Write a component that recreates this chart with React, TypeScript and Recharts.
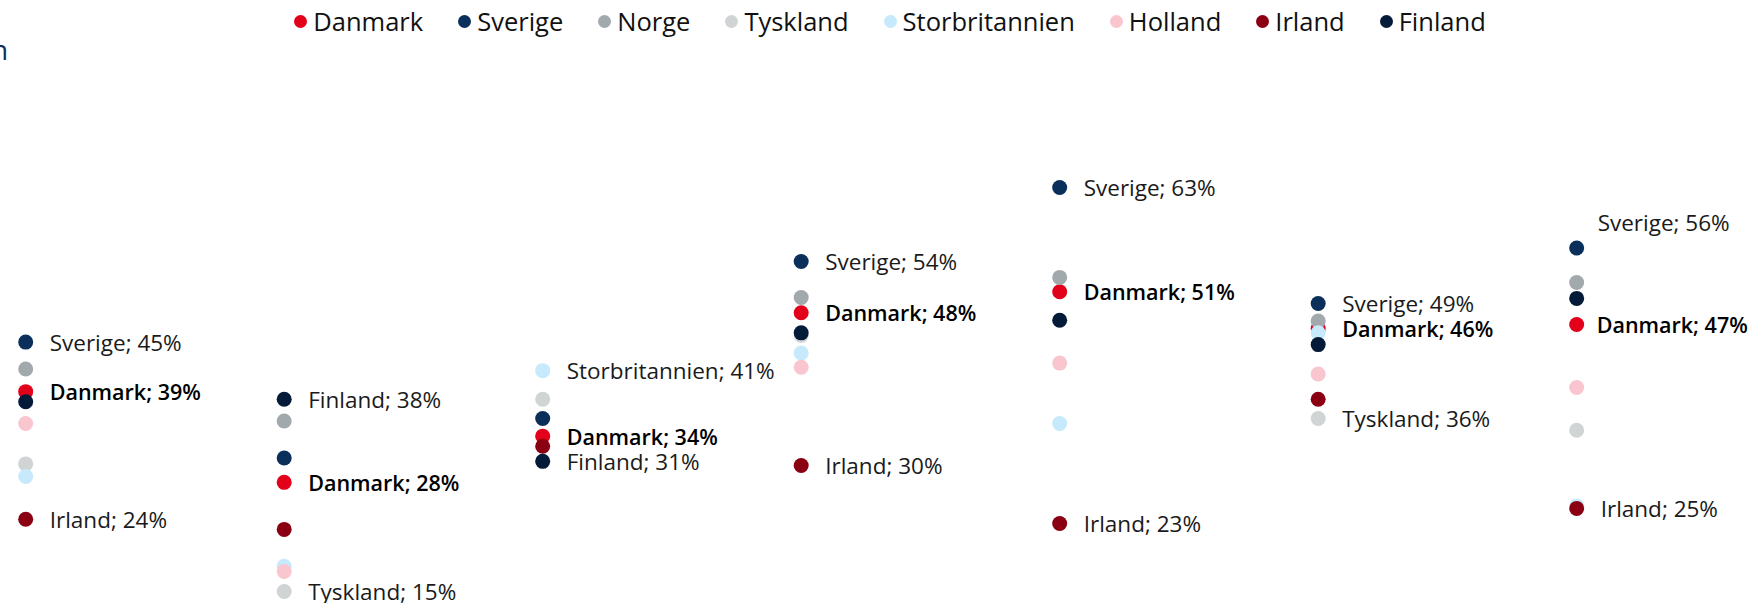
import { ScatterChart, Scatter, XAxis, YAxis } from 'recharts';

// Kategorier (ikke vist i figuren)
const categories = ['1', '2', '3', '4', '5', '6', '7'];

// Andele i procent
const danmark = [38.9, 28.1, 33.6, 48.3, 50.8, 46.4, 46.9];
const sverige = [44.8, 31.0, 35.7, 54.4, 63.2, 49.4, 56.0];
const norge = [41.6, 35.4, null, 50.1, 52.5, 47.3, 51.9];
const tyskland = [30.3, 15.1, 38.0, 45.6, null, 35.7, 34.3];
const storbritannien = [28.8, 18.1, 41.4, 43.5, 35.1, 45.9, 25.3];
const holland = [35.1, 17.5, null, 41.8, 42.3, 41.0, 39.4];
const irland = [23.7, 22.5, 32.4, 30.1, 23.2, 38.0, 25.0];
const finland = [37.7, 38.0, 30.6, 45.9, 47.4, 44.5, 50.0];

const SERIES = [
  { name: 'Danmark', values: danmark, color: '#e3001b' },
  { name: 'Sverige', values: sverige, color: '#0b2f5b' },
  { name: 'Norge', values: norge, color: '#a2a9ad' },
  { name: 'Tyskland', values: tyskland, color: '#d1d4d5' },
  { name: 'Storbritannien', values: storbritannien, color: '#c6e9fc' },
  { name: 'Holland', values: holland, color: '#f9c6d0' },
  { name: 'Irland', values: irland, color: '#8a0012' },
  { name: 'Finland', values: finland, color: '#031a38' },
];

const W = 1754;
const H = 603;
const FONT = '"Open Sans", sans-serif';

// højeste og laveste værdi pr. kategori får label, Danmark altid
const top = categories.map((_, i) => {
  let best = '';
  let v = -Infinity;
  SERIES.forEach((s) => {
    const x = s.values[i];
    if (x != null && x > v) { v = x; best = s.name; }
  });
  return best;
});
const bottom = categories.map((_, i) => {
  let best = '';
  let v = Infinity;
  SERIES.forEach((s) => {
    const x = s.values[i];
    if (x != null && x < v) { v = x; best = s.name; }
  });
  return best;
});

function makeShape(name: string, color: string) {
  return (props: any) => {
    const { cx, cy, payload } = props;
    const i = payload.idx;
    const isTop = top[i] === name;
    const isBottom = bottom[i] === name;
    const isDk = name === 'Danmark';
    const showLabel = isTop || isBottom || isDk;
    const last = i === categories.length - 1;
    let lx = cx + 24;
    let ly = cy;
    if (isTop && last) {
      lx = cx + 21;
      ly = cy - 26;
    }
    if (isDk && last) lx = cx + 20;
    return (
      <g>
        <circle cx={cx} cy={cy} r={7.5} fill={color} />
        {showLabel && (
          <text
            x={lx}
            y={ly}
            dominantBaseline="central"
            fontFamily={FONT}
            fontSize={isDk ? 21.5 : 22.5}
            fontWeight={isDk ? 600 : 400}
            fill={isDk ? '#000' : '#1a1a1a'}
          >
            {`${name}; ${Math.round(payload.value)}%`}
          </text>
        )}
      </g>
    );
  };
}

export default function App() {
  return (
    <div style={{ position: 'absolute', left: 0, top: 0, width: W, height: H, overflow: 'hidden', background: '#fff' }}>
      <div style={{ position: 'absolute', left: -9, top: 30, fontFamily: FONT, fontSize: 28, color: '#0b2f5b' }}>n</div>
      <ScatterChart width={W} height={H} margin={{ top: 0, right: 0, bottom: 0, left: 0 }}>
        <XAxis
          type="number"
          dataKey="idx"
          hide
          scale="linear"
          allowDataOverflow
          domain={[-0.0994, 6.686]}
          tickFormatter={(v: number) => categories[v] ?? ''}
        />
        <YAxis type="number" dataKey="value" hide scale="linear" allowDataOverflow domain={[13.738, 85.524]} />
        {SERIES.map((s) => (
          <Scatter
            key={s.name}
            name={s.name}
            data={categories
              .map((c, idx) => ({ idx, cat: c, value: s.values[idx] }))
              .filter((d) => d.value != null)}
            fill={s.color}
            shape={makeShape(s.name, s.color)}
            isAnimationActive={false}
          />
        ))}
      </ScatterChart>
      <div
        style={{
          position: 'absolute',
          top: 6,
          left: 0,
          width: 1780,
          display: 'flex',
          justifyContent: 'center',
          gap: 35,
          fontFamily: FONT,
          fontSize: 25.5,
          color: '#111',
          lineHeight: '30px',
        }}
      >
        {SERIES.map((s) => (
          <div key={s.name} style={{ display: 'flex', alignItems: 'center', gap: 6 }}>
            <span style={{ width: 13, height: 13, borderRadius: '50%', background: s.color, display: 'inline-block' }} />
            <span>{s.name}</span>
          </div>
        ))}
      </div>
    </div>
  );
}
